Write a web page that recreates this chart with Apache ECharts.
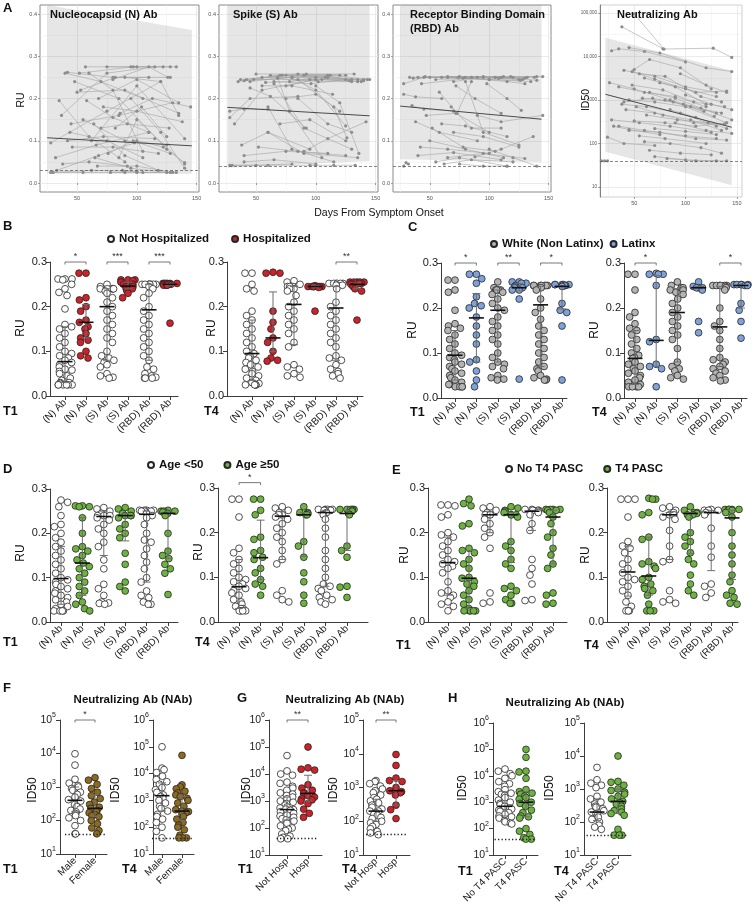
<!DOCTYPE html>
<html><head><meta charset="utf-8">
<script src="https://cdn.jsdelivr.net/npm/echarts@6/dist/echarts.min.js"></script>
<style>html,body{margin:0;padding:0;background:#fff}#c{width:756px;height:907px}</style>
</head><body><div id="c"></div>
<script>
// ================= DATA =================
const abCats = ['(N) Ab','(N) Ab','(S) Ab','(S) Ab','(RBD) Ab','(RBD) Ab'];
const dayTicks = [50,100,150];
const dayMinor = [25,75,125];
const ruTicks = [0,0.1,0.2,0.3,0.4];
const ruMinor = [0.05,0.15,0.25,0.35];
const id50Ticks = [10,100,1000,10000,100000];
const id50Minor = [31.6,316,3162,31623];

// Panel A trajectories [day, value]
const nTraj = [
 [[28,.095],[75,.17],[120,.24]],[[30,.025],[62,.03],[100,.028]],[[32,.06],[66,.09],[110,.12]],
 [[35,.195],[60,.11],[90,.05]],[[37,.16],[75,.26],[115,.275]],[[40,.26],[70,.24],[105,.2]],
 [[42,.262],[80,.25],[128,.25]],[[45,.14],[85,.16],[130,.19]],[[48,.24],[85,.2],[125,.08]],
 [[50,.215],[90,.22],[135,.165]],[[52,.26],[97,.275],[133,.275]],[[55,.15],[90,.1],[125,.09]],
 [[57,.275],[95,.275],[122,.275]],[[58,.195],[80,.155],[110,.12]],[[60,.26],[80,.22],[105,.075]],
 [[62,.1],[100,.23],[140,.105]],[[65,.06],[95,.035],[125,.025]],[[67,.04],[100,.04],[130,.025]],
 [[68,.2],[100,.245],[135,.19]],[[70,.13],[92,.14],[127,.13]],[[72,.18],[100,.17],[138,.145]],
 [[75,.275],[100,.275],[128,.275]],[[76,.07],[97,.1],[128,.07]],[[78,.025],[105,.025],[128,.025]],
 [[80,.245],[110,.275],[126,.25]],[[82,.13],[104,.18],[125,.11]],[[85,.06],[100,.15],[140,.045]],
 [[88,.03],[100,.025],[133,.025]],[[42,.1],[72,.11],[115,.105]],[[38,.045],[60,.05],[92,.04]],
 [[46,.085],[80,.085],[118,.07]],[[33,.03],[68,.065],[98,.095]],[[64,.14],[90,.065],[118,.03]],
 [[86,.165],[113,.2],[145,.18]],[[90,.25],[120,.24],[135,.16]],[[95,.2],[120,.12],[140,.035]],
 [[28,.025],[55,.025],[90,.025]],[[53,.22],[82,.25],[110,.25]],[[44,.12],[75,.1],[105,.06]],
 [[100,.1],[122,.085],[140,.048]]
];
const sTraj = [
 [[28,.042],[50,.042],[80,.045]],[[30,.042],[60,.042],[100,.042]],[[28,.155],[45,.2],[85,.205]],
 [[28,.17],[40,.175],[60,.175]],[[32,.14],[55,.22],[100,.245]],[[35,.24],[70,.255],[110,.25]],
 [[37,.245],[75,.255],[120,.255]],[[40,.242],[80,.25],[130,.245]],[[42,.245],[85,.258],[125,.255]],
 [[45,.24],[90,.255],[140,.245]],[[48,.245],[95,.245],[143,.245]],[[50,.258],[92,.258],[132,.258]],
 [[55,.25],[100,.25],[135,.245]],[[58,.238],[105,.245],[138,.24]],[[62,.255],[110,.255],[128,.242]],
 [[65,.24],[96,.235],[125,.245]],[[68,.248],[102,.24],[130,.24]],[[72,.255],[108,.25],[140,.242]],
 [[75,.23],[100,.245],[135,.24]],[[78,.24],[112,.255],[145,.245]],[[38,.09],[60,.12],[95,.08]],
 [[40,.065],[75,.075],[110,.07]],[[40,.05],[65,.055],[100,.045]],[[52,.085],[85,.075],[125,.065]],
 [[60,.12],[90,.07],[135,.06]],[[65,.235],[90,.13],[130,.08]],[[70,.14],[95,.15],[125,.1]],
 [[75,.2],[100,.21],[120,.17]],[[80,.25],[100,.22],[125,.135]],[[85,.2],[110,.14],[130,.12]],
 [[68,.25],[78,.17],[105,.06]],[[55,.23],[80,.23],[114,.21]],[[90,.075],[110,.105],[142,.145]],
 [[45,.225],[62,.205],[92,.13]],[[85,.245],[115,.18],[126,.107]],[[95,.042],[115,.042],[133,.042]],
 [[60,.18],[80,.08],[115,.05]],[[100,.23],[120,.19],[136,.07]]
];
const rTraj = [
 [[28,.04],[30,.048],[32,.045]],[[28,.235],[45,.25],[80,.25]],[[28,.21],[38,.204],[60,.2]],
 [[33,.25],[65,.25],[110,.25]],[[36,.248],[75,.252],[120,.25]],[[40,.25],[85,.25],[130,.248]],
 [[43,.235],[90,.25],[140,.252]],[[46,.252],[95,.252],[128,.245]],[[50,.25],[100,.245],[135,.24]],
 [[55,.245],[105,.25],[145,.252]],[[60,.25],[108,.248],[132,.25]],[[65,.252],[112,.252],[140,.243]],
 [[70,.24],[95,.25],[125,.245]],[[74,.25],[115,.24],[130,.235]],[[78,.248],[100,.245],[126,.243]],
 [[85,.25],[118,.252],[138,.25]],[[35,.183],[45,.175],[70,.17]],[[38,.145],[58,.12],[90,.1]],
 [[42,.085],[65,.08],[100,.07]],[[40,.065],[70,.072],[110,.055]],[[47,.16],[72,.165],[100,.12]],
 [[50,.1],[80,.08],[112,.06]],[[55,.05],[75,.06],[115,.04]],[[58,.215],[73,.165],[85,.24]],
 [[60,.14],[80,.135],[115,.11]],[[62,.045],[85,.055],[120,.05]],[[65,.06],[95,.07],[130,.058]],
 [[68,.18],[85,.13],[110,.13]],[[70,.12],[95,.11],[125,.085]],[[72,.23],[88,.2],[110,.165]],
 [[80,.24],[95,.12],[125,.09]],[[90,.16],[110,.145],[145,.16]],[[98,.235],[115,.2],[127,.172]],
 [[100,.08],[120,.06],[140,.04]],[[88,.062],[110,.08],[137,.11]],[[75,.045],[95,.04],[115,.04]],
 [[52,.13],[78,.085],[105,.075]]
];
const neutTraj = [
 [[38,48000],[78,15000]],[[50,95000],[79,14800],[127,15500],[145,9500]],
 [[28,13500],[35,15000],[60,13000],[100,7500]],[[45,16000],[75,12000],[120,5500],[145,4500]],
 [[40,4800],[70,3500],[100,2000],[130,1500]],[[50,5000],[65,8500],[95,5500],[125,1800]],
 [[48,4500],[70,3000],[110,1500],[140,1600]],[[55,4000],[80,3500],[115,1200],[135,900]],
 [[35,2000],[60,1500],[90,1200],[120,700]],[[26,2500],[50,1800],[85,1000],[130,500]],
 [[45,1000],[70,900],[100,700],[140,300]],[[60,3200],[90,2000],[120,800]],
 [[65,1500],[90,1100],[115,650],[145,350]],[[38,800],[62,700],[95,500],[130,250]],
 [[42,600],[70,500],[105,350],[135,200]],[[50,330],[80,300],[110,250],[140,300]],
 [[28,350],[55,300],[85,250],[125,180]],[[24,140],[40,100],[70,90]],
 [[35,250],[60,200],[100,150],[130,130]],[[45,200],[75,180],[110,130],[140,120]],
 [[55,150],[80,130],[120,100]],[[60,110],[85,100],[115,80],[135,60]],
 [[65,70],[95,60],[125,55]],[[70,50],[100,42],[130,40]],[[18,40],[21,40],[24,40]],
 [[75,2500],[100,1800],[130,1200]],[[80,1000],[105,700],[135,500]],[[85,600],[110,400],[140,220]],
 [[90,300],[120,200],[145,170]],[[58,1100],[88,900],[118,550]],[[52,700],[78,450],[108,300],[138,280]],
 [[40,900],[68,1100],[98,800],[128,420]],[[62,450],[92,350],[122,300]],[[95,4000],[120,2200],[140,1500]],
 [[70,220],[100,190],[130,160]],[[82,45],[110,40],[140,40]],[[100,1300],[125,800],[145,600]],
 [[48,2200],[78,1700],[108,900],[138,700]],[[30,250],[45,210],[75,160]]
];
// bands [day, lower, upper], regression [day, value], detection limits
const nBand = [[25,0.022,0.43],[146,0.022,0.362]];
const sBand = [[26,0.036,0.6],[145,0.052,0.6]];
const rBand = [[25,0.056,0.6],[144,0.049,0.6]];
const neutBand = [[22,65,27000],[145,11,4700]];
const nReg = [[25,0.107],[146,0.088]];
const sReg = [[26,0.179],[145,0.159]];
const rReg = [[25,0.182],[144,0.151]];
const neutReg = [[22,1350],[145,236]];
const nLod = 0.025, sLod = 0.043, rLod = 0.04, neutLod = 40;

// Panel B: Not Hospitalized / Hospitalized
const bT1 = [
 [.262,.262,.262,.26,.25,.24,.232,.225,.195,.16,.155,.15,.14,.13,.12,.11,.1,.095,.09,.085,.08,.075,.07,.065,.06,.058,.055,.05,.045,.04,.035,.03,.03,.028,.025,.025,.025,.025,.025,.025],
 [.275,.275,.22,.215,.2,.19,.17,.165,.155,.15,.14,.13,.125,.12,.1,.09,.085],
 [.25,.245,.24,.24,.24,.24,.24,.235,.23,.22,.21,.2,.19,.18,.17,.16,.15,.14,.13,.12,.1,.09,.085,.08,.075,.07,.065,.05,.045,.042,.04],
 [.26,.26,.26,.258,.255,.255,.25,.25,.25,.245,.245,.24,.24,.235,.23,.22],
 [.25,.25,.25,.25,.25,.25,.25,.25,.245,.24,.23,.22,.2,.19,.18,.17,.16,.15,.14,.13,.12,.11,.1,.09,.08,.065,.06,.05,.045,.042,.04,.04,.04],
 [.252,.252,.252,.252,.252,.252,.25,.25,.25,.25,.25,.248,.248,.248,.163]
];
const bT1Stats = [[.077,.03,.155],[.165,.13,.205],[.2,.08,.24],[.246,.24,.255],[.193,.08,.25],[.25,.247,.252]];
const bT4 = [
 [.275,.275,.25,.24,.235,.19,.18,.17,.16,.15,.14,.13,.12,.11,.1,.095,.09,.085,.08,.075,.07,.065,.06,.055,.05,.045,.04,.035,.03,.028,.025,.025,.025,.025,.025],
 [.277,.275,.275,.19,.165,.15,.13,.12,.1,.085,.08,.078],
 [.258,.255,.25,.245,.245,.245,.24,.24,.235,.225,.21,.2,.19,.18,.17,.16,.15,.14,.12,.11,.07,.065,.06,.05,.045,.042],
 [.247,.245,.245,.245,.245,.245,.245,.245,.243,.19],
 [.252,.252,.252,.252,.252,.252,.248,.248,.248,.24,.21,.2,.19,.18,.17,.16,.15,.14,.13,.12,.11,.09,.085,.08,.07,.06,.055,.05,.045,.04],
 [.255,.255,.255,.255,.255,.252,.252,.252,.25,.245,.24,.235,.17]
];
const bT4Stats = [[.095,.035,.17],[.13,.1,.233],[.205,.115,.245],[.245,.243,.247],[.197,.08,.245],[.25,.24,.253]];

// Panel C: White (Non Latinx) / Latinx
const cT1 = [
 [.262,.262,.24,.235,.195,.165,.16,.155,.15,.14,.13,.12,.11,.1,.095,.09,.085,.08,.075,.07,.065,.06,.055,.05,.045,.04,.035,.03,.03,.025,.025,.025,.025],
 [.275,.275,.265,.255,.225,.21,.205,.2,.18,.16,.14,.12,.085,.08,.06,.04,.025],
 [.258,.245,.24,.24,.24,.24,.235,.23,.22,.21,.2,.195,.18,.17,.16,.15,.14,.13,.12,.1,.09,.08,.075,.07,.065,.05,.045,.042,.04],
 [.258,.258,.255,.255,.25,.248,.245,.245,.24,.24,.22,.042],
 [.25,.25,.25,.25,.25,.25,.25,.245,.24,.22,.2,.19,.175,.16,.15,.14,.13,.12,.11,.1,.09,.08,.07,.065,.06,.05,.045,.042,.04,.04],
 [.252,.252,.252,.252,.252,.25,.25,.25,.248,.21,.195,.19,.16,.04]
];
const cT1Stats = [[.095,.04,.15],[.178,.08,.232],[.195,.08,.24],[.245,.238,.255],[.207,.07,.248],[.248,.198,.25]];
const cT4 = [
 [.275,.275,.24,.19,.18,.165,.155,.15,.14,.13,.12,.11,.1,.095,.09,.088,.08,.075,.07,.065,.06,.055,.05,.045,.04,.035,.03,.025,.025,.025,.025],
 [.277,.275,.275,.275,.25,.13,.125,.075,.07,.065,.025],
 [.258,.25,.245,.245,.245,.24,.24,.235,.23,.22,.21,.2,.19,.18,.17,.16,.15,.14,.13,.11,.08,.07,.065,.06,.05,.045,.042],
 [.258,.248,.245,.245,.245,.24,.17,.145],
 [.25,.25,.25,.25,.25,.25,.248,.245,.24,.2,.17,.16,.15,.13,.11,.09,.085,.08,.075,.07,.065,.06,.055,.05,.045,.04,.038],
 [.252,.252,.252,.252,.252,.25,.25,.21,.195,.17,.133]
];
const cT4Stats = [[.088,.03,.15],[.128,.07,.272],[.19,.08,.243],[.245,.243,.248],[.158,.07,.248],[.25,.2,.252]];

// Panel D: Age <50 / Age >=50
const dT1 = [
 [.275,.27,.26,.24,.22,.215,.2,.19,.18,.17,.16,.15,.14,.13,.12,.11,.1,.095,.09,.085,.08,.075,.07,.065,.06,.055,.05,.045,.04,.035,.03,.025,.025,.025,.025],
 [.262,.262,.26,.26,.235,.2,.17,.165,.16,.15,.14,.133,.125,.12,.11,.1,.09,.08,.07,.06,.045,.04,.03,.025],
 [.258,.255,.25,.245,.24,.24,.24,.235,.23,.22,.21,.2,.18,.17,.14,.12,.085,.075,.06,.045,.043,.042,.04],
 [.258,.255,.25,.245,.24,.24,.24,.235,.22,.21,.2,.19,.155,.13,.09,.08,.07],
 [.252,.252,.252,.252,.25,.25,.25,.245,.24,.235,.22,.2,.185,.18,.165,.15,.135,.12,.1,.09,.07,.06,.055,.045,.04,.04],
 [.252,.25,.25,.25,.248,.245,.24,.2,.16,.15,.143,.13,.12,.11,.062]
];
const dT1Stats = [[.098,.04,.17],[.133,.06,.235],[.238,.15,.25],[.24,.183,.245],[.243,.09,.25],[.245,.143,.25]];
const dT4 = [
 [.275,.275,.235,.165,.155,.14,.13,.12,.11,.1,.095,.09,.085,.08,.075,.07,.065,.06,.05,.045,.04,.035,.03,.03,.025,.025,.025,.025],
 [.275,.275,.25,.24,.19,.185,.16,.155,.145,.14,.12,.11,.095,.085,.08,.06],
 [.258,.255,.25,.245,.24,.24,.235,.23,.22,.21,.2,.19,.18,.16,.14,.13,.07,.06,.05,.045],
 [.258,.245,.245,.243,.24,.24,.18,.17,.145,.11,.09,.06,.042],
 [.252,.252,.252,.252,.25,.25,.25,.245,.24,.23,.21,.19,.16,.14,.12,.1,.085,.08,.075,.07,.06,.055,.05,.045,.04],
 [.252,.252,.252,.252,.252,.25,.248,.243,.24,.17,.16,.145,.08,.078,.055]
];
const dT4Stats = [[.079,.03,.14],[.144,.095,.228],[.237,.14,.248],[.24,.147,.245],[.245,.08,.25],[.243,.16,.25]];

// Panel E: No T4 PASC / T4 PASC
const eT1 = [
 [.262,.262,.26,.24,.235,.2,.195,.19,.18,.17,.16,.15,.14,.135,.13,.125,.12,.11,.09,.07,.065,.06,.055,.045,.04,.035,.025],
 [.275,.265,.26,.22,.215,.165,.16,.155,.14,.13,.12,.1,.098,.09,.085,.08,.07,.06,.05,.04,.03,.025,.025,.025,.025,.025],
 [.258,.255,.25,.245,.24,.24,.24,.23,.22,.21,.2,.19,.165,.065,.045,.042],
 [.258,.255,.25,.248,.245,.24,.24,.24,.235,.18,.17,.16,.14,.13,.12,.08,.075,.07,.06,.05,.042,.042],
 [.252,.252,.25,.25,.25,.248,.245,.24,.22,.205,.14,.12,.105,.085,.05,.048],
 [.252,.252,.252,.252,.25,.25,.245,.235,.22,.2,.19,.165,.15,.13,.12,.065,.06,.042,.04]
];
const eT1Stats = [[.133,.06,.19],[.098,.03,.16],[.24,.2,.248],[.24,.133,.245],[.248,.205,.25],[.235,.13,.25]];
const eT4 = [
 [.275,.275,.275,.235,.18,.17,.165,.155,.14,.13,.12,.11,.1,.095,.09,.08,.07,.06,.045,.035,.025,.025,.025],
 [.277,.275,.275,.245,.24,.19,.185,.135,.13,.125,.12,.1,.095,.085,.08,.075,.07,.06,.04,.025,.025,.025],
 [.258,.255,.25,.245,.24,.24,.235,.23,.205,.17,.14,.135,.07,.05,.045,.042],
 [.258,.25,.245,.245,.243,.24,.24,.235,.2,.19,.18,.17,.155,.14,.13,.105,.085,.07,.06],
 [.252,.25,.25,.25,.245,.24,.21,.17,.145,.085,.08,.065,.055],
 [.252,.252,.252,.252,.252,.25,.245,.235,.2,.17,.15,.13,.105,.09,.07,.06,.055,.042,.04]
];
const eT4Stats = [[.112,.058,.17],[.103,.06,.19],[.24,.14,.245],[.243,.153,.245],[.245,.115,.25],[.233,.095,.25]];

// Panels F-H: neutralizing Ab ID50
const fCats = ['Male','Female'];
const fT1 = [
 [9800,4500,1700,1300,1100,1000,900,800,700,600,500,420,380,300,260,220,200,180,160,140,120,100,70,40,40],
 [1900,1600,1200,900,700,550,450,350,300,250,230,200,190,170,150,140,130,100,80,60,50,40]
];
const fT1Stats = [[400,180,1000],[230,130,600]];
const fT4 = [
 [100000,16000,14000,11000,8000,6000,5000,4000,3000,2500,2000,1600,1400,1200,1000,800,600,500,400,300,250,200,150,100,70,40],
 [48000,3800,3200,2700,2200,1900,1600,1400,1200,1000,800,600,450,400,380,350,300,250,200,150,120,100,80,50,40,40,40]
];
const fT4Stats = [[1500,400,4500],[400,180,1400]];
const gCats = ['Not Hosp','Hosp'];
const gT1 = [
 [48000,13000,10000,9000,5000,4500,3500,3000,2500,2000,1800,1600,1400,1200,1000,900,800,700,600,550,500,480,450,400,350,300,280,250,220,200,180,150,120,100,90,80,60,50,45,40,40],
 [100000,17000,15000,14000,4000,3000,2500,2000,1900,1600,1400,1200,1100,1000,800,500,350,250]
];
const gT1Stats = [[480,200,1400],[1900,1000,9000]];
const gT4 = [
 [1600,1500,1300,1100,900,800,700,600,500,450,400,350,300,260,230,200,200,180,160,150,130,120,100,90,80,70,60,50,45,40],
 [9500,4500,1900,1600,1500,1000,800,750,700,600,300,220,120]
];
const gT4Stats = [[200,100,450],[800,300,1600]];
const hCats = ['No T4 PASC','T4 PASC'];
const hT1 = [
 [18000,15000,12000,10000,8000,6000,5000,4000,3000,2500,2200,2000,1800,1500,1200,1000,900,800,700,600,550,500,450,400,350,300,280,250,200,180,160,150],
 [100000,50000,15000,14000,8000,3000,2500,2200,2000,1700,1500,1300,1000,900,700,500,400,300,280,250,100,80,60,45,40,40]
];
const hT1Stats = [[700,300,2500],[1000,280,2500]];
const hT4 = [
 [4500,1900,1500,1300,1100,600,500,400,350,300,280,250,220,200,180,160,140,120,100,80,70,60],
 [10000,1700,1600,1300,1000,900,800,700,600,500,420,380,350,300,250,220,200,180,160,60,40,40,40]
];
const hT4Stats = [[200,110,500],[420,180,1000]];

// ================= BUILD =================
const FF = '"Liberation Sans", Arial, Helvetica, sans-serif';
const AX = '#3c3c3c';
const grid = [], xAxis = [], yAxis = [], series = [], legend = [], graphic = [];

function txt(x, y, text, o) {
  o = o || {};
  graphic.push({type:'text', x:x, y:y, rotation:o.rot || 0, silent:true, z:50,
    style:{text:text, fill:o.color || '#111', font:(o.weight || 'normal') + ' ' + (o.size || 11) + 'px ' + FF,
      textAlign:o.align || 'left', textVerticalAlign:o.va || 'middle', align:o.align || 'left', verticalAlign:o.va || 'middle'}});
}

function spag(o) {
  const gi = grid.length;
  grid.push({left:o.left, top:o.top, width:o.width, height:o.height, show:true,
    borderColor:o.border || '#8a8a8a', borderWidth:1, backgroundColor:'#fff'});
  const xi = xAxis.length;
  xAxis.push({gridIndex:gi, type:'value', min:o.xMin, max:o.xMax, axisLine:{show:false},
    axisTick:{show:true, length:2, customValues:dayTicks, lineStyle:{color:'#666', width:0.6}},
    axisLabel:{customValues:dayTicks, fontSize:5.5, color:'#555', margin:3, fontFamily:FF},
    splitLine:{show:true, lineStyle:{color:'#e2e2e2', width:0.7}}});
  xAxis.push({gridIndex:gi, type:'value', position:'top', min:o.xMin, max:o.xMax, axisLine:{show:false},
    axisTick:{show:false, customValues:dayMinor}, axisLabel:{show:false, customValues:dayMinor},
    splitLine:{show:true, lineStyle:{color:'#eeeeee', width:0.5}}});
  const yi = yAxis.length;
  const yMain = o.log ? id50Ticks : ruTicks, yMin2 = o.log ? id50Minor : ruMinor;
  yAxis.push({gridIndex:gi, type:o.log ? 'log' : 'value', logBase:10, min:o.yMin, max:o.yMax,
    axisLine:{show:!!o.log, lineStyle:{color:'#666', width:0.8}},
    axisTick:{show:true, length:2, customValues:yMain, lineStyle:{color:'#666', width:0.6}},
    axisLabel:{customValues:yMain, fontSize:o.log ? 4.5 : 5.5, color:'#555', margin:3, fontFamily:FF,
      formatter:o.log ? (v => ({10:'10',100:'100',1000:'1000',10000:'10,000',100000:'100,000'})[Math.round(v)] || '') : (v => v.toFixed(1))},
    splitLine:{show:true, lineStyle:{color:'#e2e2e2', width:0.7}}});
  yAxis.push({gridIndex:gi, type:o.log ? 'log' : 'value', logBase:10, position:'right', min:o.yMin, max:o.yMax,
    axisLine:{show:false}, axisTick:{show:false, customValues:yMin2}, axisLabel:{show:false, customValues:yMin2},
    splitLine:{show:true, lineStyle:{color:'#eeeeee', width:0.5}}});
  const band = o.band;
  series.push({type:'custom', xAxisIndex:xi, yAxisIndex:yi, silent:true, clip:true, z:1, data:[band[0]],
    renderItem:(p, api) => {
      const pts = [];
      band.forEach(b => pts.push(api.coord([b[0], b[1]])));
      for (let i = band.length - 1; i >= 0; i--) pts.push(api.coord([band[i][0], band[i][2]]));
      const cs = p.coordSys;
      return {type:'polygon', shape:{points:echarts.graphic.clipPointsByRect(pts, {x:cs.x, y:cs.y, width:cs.width, height:cs.height})},
        style:{fill:'rgba(140,140,140,0.22)'}};
    }});
  o.traj.forEach(t => series.push({type:'line', xAxisIndex:xi, yAxisIndex:yi, data:t, symbol:'circle', symbolSize:3.2,
    showSymbol:true, silent:true, z:3, lineStyle:{color:'#a3a3a3', width:0.6}, itemStyle:{color:'#8d8d8d'}}));
  series.push({type:'line', xAxisIndex:xi, yAxisIndex:yi, data:o.reg, symbol:'none', silent:true, z:4,
    lineStyle:{color:'#4a4a4a', width:1},
    markLine:{silent:true, symbol:'none', label:{show:false}, lineStyle:{type:[3,2], color:'#555', width:0.7}, data:[{yAxis:o.lod}]}});
}

function dot(o) {
  const n = o.cats.length;
  const left = o.cat0 - o.gap / 2;
  const h = o.bottom - o.top;
  const gi = grid.length;
  grid.push({left:left, top:o.top, width:o.gap * n, height:h});
  const xi = xAxis.length;
  xAxis.push({gridIndex:gi, type:'category', data:o.cats, boundaryGap:true,
    jitter:o.gap * 0.85, jitterOverlap:false, jitterMargin:0.2,
    axisLine:{show:false}, axisTick:{show:true, alignWithLabel:true, length:4, lineStyle:{color:AX, width:1}},
    axisLabel:{rotate:45, interval:0, fontSize:10, color:'#1a1a1a', margin:5, fontFamily:FF}, splitLine:{show:false}});
  const yi = yAxis.length;
  const yc = {gridIndex:gi, offset:left - o.axisX,
    axisLine:{show:true, lineStyle:{color:AX, width:1}}, axisTick:{show:true, length:4, lineStyle:{color:AX, width:1}},
    splitLine:{show:false}};
  if (o.log) {
    const lt = [10,100,1000,10000,100000,1000000].filter(v => v <= o.yMax);
    Object.assign(yc, {type:'log', logBase:10, min:10, max:o.yMax,
      axisTick:{show:true, length:4, customValues:lt, lineStyle:{color:AX, width:1}},
      axisLabel:{customValues:lt, color:'#1a1a1a', margin:4, fontFamily:FF,
        formatter:v => '{b|10}{s|' + Math.round(Math.log10(v)) + '}',
        rich:{b:{fontSize:10.5, lineHeight:16, fontFamily:FF, color:'#1a1a1a'}, s:{fontSize:7, lineHeight:9, verticalAlign:'top', fontFamily:FF, color:'#1a1a1a'}}}});
  } else {
    Object.assign(yc, {type:'value', min:0, max:0.3, interval:0.1,
      axisLabel:{fontSize:11, color:'#1a1a1a', margin:3, fontFamily:FF, formatter:v => v.toFixed(1)}});
  }
  yAxis.push(yc);
  // x axis baseline from the y axis to the end
  const gd = grid.length;
  grid.push({left:o.axisX, top:o.top, width:o.axisEnd - o.axisX, height:h});
  xAxis.push({gridIndex:gd, type:'value', min:0, max:1, axisLine:{show:true, onZero:false, lineStyle:{color:AX, width:1}},
    axisTick:{show:false}, axisLabel:{show:false}, splitLine:{show:false}});
  yAxis.push({gridIndex:gd, type:'value', min:0, max:1, show:false});

  for (let s = 0; s < 2; s++) {
    const data = [];
    o.groups.forEach((g, i) => { if (i % 2 === s) g.forEach(v => data.push([i, v])); });
    series.push({type:'scatter', name:o.names[s], xAxisIndex:xi, yAxisIndex:yi, data:data, symbolSize:6.8, silent:true, z:3,
      itemStyle:{color:o.colors[s], borderColor:'#262626', borderWidth:0.8, opacity:1}});
  }
  const st = {type:'custom', xAxisIndex:xi, yAxisIndex:yi, silent:true, z:6, clip:false,
    data:o.stats.map((s, i) => [i, s[0], s[1], s[2]]), encode:{x:0, y:1},
    renderItem:(p, api) => {
      const c = api.value(0);
      const pm = api.coord([c, api.value(1)]), p1 = api.coord([c, api.value(2)]), p3 = api.coord([c, api.value(3)]);
      const x = pm[0], cw = 4, hw = 7.5;
      const gs = {stroke:'#6e6e6e', lineWidth:1};
      return {type:'group', children:[
        {type:'line', shape:{x1:x, y1:p1[1], x2:x, y2:p3[1]}, style:gs},
        {type:'line', shape:{x1:x - cw, y1:p1[1], x2:x + cw, y2:p1[1]}, style:gs},
        {type:'line', shape:{x1:x - cw, y1:p3[1], x2:x + cw, y2:p3[1]}, style:gs},
        {type:'line', shape:{x1:x - hw, y1:pm[1], x2:x + hw, y2:pm[1]}, style:{stroke:'#111', lineWidth:1.6}}
      ]};
    }};
  if (o.lod) st.markLine = {silent:true, symbol:'none', label:{show:false}, lineStyle:{type:[1.3,2.2], color:'#222', width:1.3}, data:[{yAxis:o.lod}]};
  series.push(st);
  if (o.sig && o.sig.length) {
    const sig = o.sig;
    series.push({type:'custom', xAxisIndex:xi, yAxisIndex:yi, silent:true, z:6, clip:false,
      data:sig.map(s => [s[0], s[3], s[1]]), encode:{x:0, y:1},
      renderItem:(p, api) => {
        const y = api.value(1);
        const a = api.coord([api.value(0), y]), b = api.coord([api.value(2), y]);
        return {type:'group', children:[
          {type:'polyline', shape:{points:[[a[0], a[1] + 2.5], [a[0], a[1]], [b[0], b[1]], [b[0], b[1] + 2.5]]}, style:{stroke:'#555', lineWidth:0.8, fill:null}},
          {type:'text', style:{text:sig[p.dataIndex][2], x:(a[0] + b[0]) / 2, y:a[1] - 1, textAlign:'center', textVerticalAlign:'bottom', align:'center', verticalAlign:'bottom', font:'9px ' + FF, fill:'#333'}}
        ]};
      }});
  }
  txt(o.tx, o.ty, o.tl, {weight:'bold', size:12.5});
  txt(o.nx, o.ny, o.log ? 'ID50' : 'RU', {rot:Math.PI / 2, align:'center', size:12});
}

function lg(cx, cy, gap, names) {
  legend.push({left:cx - 3, top:cy - 7, padding:0, itemWidth:6, itemHeight:6, itemGap:gap, icon:'circle', selectedMode:false, data:names,
    textStyle:{fontSize:11.5, fontWeight:'bold', color:'#111', fontFamily:FF, lineHeight:14}});
}

// ---- Panel A ----
spag({left:40, top:5, width:159, height:187, xMin:19, xMax:152, yMin:-0.0213, yMax:0.4213, traj:nTraj, band:nBand, reg:nReg, lod:nLod});
spag({left:219, top:5, width:159, height:187, xMin:19, xMax:152, yMin:-0.0213, yMax:0.4213, traj:sTraj, band:sBand, reg:sReg, lod:sLod});
spag({left:393, top:5, width:158, height:187, xMin:19, xMax:152, yMin:-0.0213, yMax:0.4213, traj:rTraj, band:rBand, reg:rReg, lod:rLod});
spag({left:600, top:5, width:142, height:192, xMin:16.7, xMax:155, yMin:5.9, yMax:152000, log:true, traj:neutTraj, band:neutBand, reg:neutReg, lod:neutLod, border:'#cfcfcf'});
txt(3, 8, 'A', {weight:'bold', size:13});
txt(50, 15, 'Nucleocapsid (N) Ab', {weight:'bold', size:11});
txt(233, 15, 'Spike (S) Ab', {weight:'bold', size:11});
txt(410, 15, 'Receptor Binding Domain', {weight:'bold', size:11});
txt(410, 29, '(RBD) Ab', {weight:'bold', size:11});
txt(617, 15, 'Neutralizing Ab', {weight:'bold', size:11});
txt(21, 100, 'RU', {rot:Math.PI / 2, align:'center', size:10.5});
txt(586, 100, 'ID50', {rot:Math.PI / 2, align:'center', size:10.5});
txt(379, 213, 'Days From Symptom Onset', {align:'center', size:10.5});

// ---- Panel B ----
const hospNames = ['Not Hospitalized','Hospitalized'], hospCols = ['#ffffff','#cc2229'];
dot({axisX:50, axisEnd:178, top:262, bottom:396, cat0:65, gap:21, cats:abCats, groups:bT1, stats:bT1Stats, names:hospNames, colors:hospCols,
  sig:[[0,1,'*',0.3],[2,3,'***',0.3],[4,5,'***',0.3]], tx:3, ty:412, tl:'T1', nx:21, ny:328});
dot({axisX:227, axisEnd:363, top:262, bottom:396, cat0:252, gap:21, cats:abCats, groups:bT4, stats:bT4Stats, names:hospNames, colors:hospCols,
  sig:[[4,5,'**',0.3]], tx:204, ty:412, tl:'T4', nx:212, ny:328});
lg(110, 239, 22, hospNames);
txt(3, 226, 'B', {weight:'bold', size:13});

// ---- Panel C ----
const ethNames = ['White (Non Latinx)','Latinx'], ethCols = ['#b4b4b4','#7fa2da'];
dot({axisX:441, axisEnd:567, top:263, bottom:398, cat0:455, gap:21.4, cats:abCats, groups:cT1, stats:cT1Stats, names:ethNames, colors:ethCols,
  sig:[[0,1,'*',0.3],[2,3,'**',0.3],[4,5,'*',0.3]], tx:410, ty:413, tl:'T1', nx:413, ny:330});
dot({axisX:624, axisEnd:747, top:263, bottom:398, cat0:635, gap:21.2, cats:abCats, groups:cT4, stats:cT4Stats, names:ethNames, colors:ethCols,
  sig:[[0,1,'*',0.3],[4,5,'*',0.3]], tx:592, ty:413, tl:'T4', nx:595, ny:330});
lg(493, 244, 6, ethNames);
txt(408, 227, 'C', {weight:'bold', size:13});

// ---- Panel D ----
const ageNames = ['Age <50','Age \u226550'], ageCols = ['#ffffff','#6db33f'];
dot({axisX:50, axisEnd:178, top:489, bottom:622, cat0:61, gap:21.4, cats:abCats, groups:dT1, stats:dT1Stats, names:ageNames, colors:ageCols,
  sig:[], tx:3, ty:643, tl:'T1', nx:21, ny:553});
dot({axisX:218, axisEnd:368, top:488, bottom:622, cat0:239, gap:21.6, cats:abCats, groups:dT4, stats:dT4Stats, names:ageNames, colors:ageCols,
  sig:[[0,1,'*',0.312]], tx:195, ty:643, tl:'T4', nx:199, ny:552});
lg(150, 465, 20, ageNames);
txt(3, 469, 'D', {weight:'bold', size:13});

// ---- Panel E ----
const pascNames = ['No T4 PASC','T4 PASC'], pascCols = ['#ffffff','#6db33f'];
dot({axisX:428, axisEnd:567, top:488, bottom:622, cat0:448, gap:21, cats:abCats, groups:eT1, stats:eT1Stats, names:pascNames, colors:pascCols,
  sig:[], tx:396, ty:646, tl:'T1', nx:405, ny:555});
dot({axisX:607, axisEnd:738, top:488, bottom:622, cat0:628, gap:20.8, cats:abCats, groups:eT4, stats:eT4Stats, names:pascNames, colors:pascCols,
  sig:[], tx:584, ty:646, tl:'T4', nx:586, ny:555});
lg(508, 469, 20, pascNames);
txt(392, 470, 'E', {weight:'bold', size:13});

// ---- Panel F ----
const sexNames = ['Male ', 'Female '], sexCols = ['#ffffff','#8c6a1f'];
dot({axisX:60, axisEnd:107, top:720, bottom:854, cat0:75, gap:20, cats:fCats, groups:fT1, stats:fT1Stats, names:sexNames, colors:sexCols,
  log:true, yMax:1e5, lod:neutLod, sig:[[0,1,'*',1e5]], tx:3, ty:870, tl:'T1', nx:33, ny:790});
dot({axisX:153, axisEnd:194, top:720, bottom:854, cat0:162, gap:20, cats:fCats, groups:fT4, stats:fT4Stats, names:sexNames, colors:sexCols,
  log:true, yMax:1e6, lod:neutLod, sig:[], tx:122, ty:870, tl:'T4', nx:116, ny:790});
txt(3, 688, 'F', {weight:'bold', size:13});
txt(133, 700, 'Neutralizing Ab (NAb)', {weight:'bold', size:11.5, align:'center'});

// ---- Panel G ----
const ghNames = ['Not Hosp ','Hosp '];
dot({axisX:269, axisEnd:322, top:720, bottom:855, cat0:287, gap:21, cats:gCats, groups:gT1, stats:gT1Stats, names:ghNames, colors:hospCols,
  log:true, yMax:1e6, lod:neutLod, sig:[[0,1,'**',1e6]], tx:238, ty:870, tl:'T1', nx:247, ny:790});
dot({axisX:363, axisEnd:410, top:720, bottom:855, cat0:376, gap:20, cats:gCats, groups:gT4, stats:gT4Stats, names:ghNames, colors:hospCols,
  log:true, yMax:1e5, lod:neutLod, sig:[[0,1,'**',1e5]], tx:342, ty:870, tl:'T4', nx:334, ny:790});
txt(237, 698, 'G', {weight:'bold', size:13});
txt(345, 700, 'Neutralizing Ab (NAb)', {weight:'bold', size:11.5, align:'center'});

// ---- Panel H ----
const hpNames = ['No T4 PASC ','T4 PASC '];
dot({axisX:493, axisEnd:538, top:723, bottom:855, cat0:505, gap:21, cats:hCats, groups:hT1, stats:hT1Stats, names:hpNames, colors:pascCols,
  log:true, yMax:1e6, lod:neutLod, sig:[], tx:458, ty:872, tl:'T1', nx:463, ny:788});
dot({axisX:584, axisEnd:631, top:723, bottom:855, cat0:597, gap:21, cats:hCats, groups:hT4, stats:hT4Stats, names:hpNames, colors:pascCols,
  log:true, yMax:1e5, lod:neutLod, sig:[], tx:554, ty:872, tl:'T4', nx:550, ny:788});
txt(448, 698, 'H', {weight:'bold', size:13});
txt(565, 703, 'Neutralizing Ab (NAb)', {weight:'bold', size:11.5, align:'center'});

const chart = echarts.init(document.getElementById('c'), null, {renderer:'canvas'});
chart.setOption({animation:false, backgroundColor:'#ffffff', textStyle:{fontFamily:FF},
  grid:grid, xAxis:xAxis, yAxis:yAxis, series:series, legend:legend, graphic:graphic});
</script></body></html>
